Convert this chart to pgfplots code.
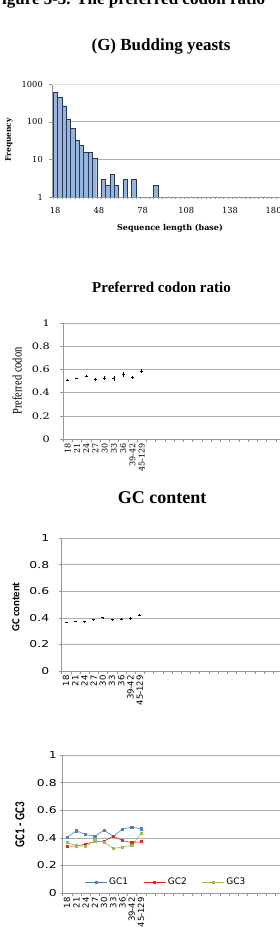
\documentclass[border=0pt]{standalone}
\usepackage{fontspec}
\setmainfont{Liberation Serif}
\newfontfamily\dvserif{DejaVu Serif}
\newfontfamily\dvsans{DejaVu Sans}
\newfontfamily\carl{Carlito}
\usepackage{pgfplots}
\pgfplotsset{compat=1.18}
\definecolor{axisgray}{RGB}{150,150,150}
\definecolor{gridgray}{RGB}{175,175,175}
\definecolor{lightgridgray}{RGB}{225,225,225}
\definecolor{barblue}{RGB}{150,180,220}
\definecolor{bardark}{RGB}{40,55,85}
\definecolor{gcone}{RGB}{79,129,189}
\definecolor{gctwo}{RGB}{228,40,30}
\definecolor{gcthree}{RGB}{155,187,89}
\pgfplotsset{
  excelpanel/.style={
    scale only axis,
    axis x line*=bottom, axis y line*=left,
    axis line style={-, draw=axisgray},
    tick style={draw=axisgray},
    tick align=outside,
    major tick length=3pt, minor tick length=3pt,
    ymajorgrids, yminorticks=false,
    grid style={gridgray, line width=0.5pt},
  },
  catpanel/.style={
    excelpanel,
    xmin=-0.5, xmax=24.5, ymin=0, ymax=1,
    xtick={0,1,2,3,4,5,6,7,8},
    xticklabels={18,21,24,27,30,33,36,39-42,45-129},
    major x tick style={draw=none},
    minor xtick={-0.5,0.5,...,24.5},
    ytick={0,0.2,0.4,0.6,0.8,1},
    yticklabels={0,0.2,0.4,0.6,0.8,1},
  },
}
\begin{document}
\begin{tikzpicture}[x=1pt,y=1pt]
\useasboundingbox (0,0) rectangle (280,928);
\node[anchor=base west, inner sep=0pt, font=\bfseries\fontsize{17}{20}\selectfont] at (-8.5,923.6) {Figure 5-3. The preferred codon ratio};

% ---------------- Histogram ----------------
\begin{axis}[excelpanel,
  at={(52pt,731pt)}, anchor=south west,
  width=239.1pt, height=113pt,
  xmin=15.8, xmax=180,
  ymode=log, ymin=1, ymax=1000,
  xtick={18,48,78,108,138,168},
  xticklabels={18,48,78,108,138,180},
  major x tick style={draw=none},
  minor xtick={16.5,19.5,...,181.5}, minor tick length=2pt,
  ytick={1,10,100}, yticklabels={1,10,100},
  extra y ticks={1000}, extra y tick labels={1000},
  extra y tick style={grid style={lightgridgray}},
  tick label style={font=\dvserif\fontsize{8.3}{9}\selectfont},
  yticklabel style={inner sep=0pt, xshift=-6pt},
  xticklabel style={yshift=-4pt},
  title={(G) Budding yeasts},
  title style={at={(axis description cs:0.456,1.243)}, anchor=base, inner sep=0pt,
    font=\bfseries\fontsize{17}{20}\selectfont},
  xlabel={Sequence length (base)},
  xlabel style={at={(axis description cs:0.4935,-0.28)}, anchor=center,
    font=\dvserif\bfseries\fontsize{8}{9}\selectfont},
  ylabel={Frequency},
  ylabel style={at={(axis description cs:-0.18,0.504)}, anchor=center,
    font=\dvserif\bfseries\fontsize{7.5}{9}\selectfont},
]
\addplot[ybar, bar width=4.37pt, fill=barblue, draw=bardark, line width=0.4pt]
  coordinates {(18,612) (21,450) (24,265) (27,116) (30,67) (33,33) (36,23) (39,15)
               (42,15) (45,11) (51,3) (54,2) (57,4) (60,2) (66,3) (72,3) (87,2)};
\end{axis}

% ---------------- Preferred codon ratio ----------------
\begin{axis}[catpanel,
  at={(63pt,489pt)}, anchor=south west,
  width=231.25pt, height=116pt,
  yticklabel style={font=\dvserif\fontsize{9}{10}\selectfont, xscale=1.25, inner sep=0pt, xshift=-8pt},
  xticklabel style={rotate=90, anchor=east, inner sep=1pt, font=\dvserif\fontsize{8}{9}\selectfont},
  title={Preferred codon ratio},
  title style={at={(axis description cs:0.426,1.213)}, anchor=base, inner sep=0pt,
    font=\bfseries\fontsize{15}{18}\selectfont},
  ylabel={Preferred codon},
  ylabel style={at={(axis description cs:-0.199,0.5)}, anchor=center,
    font=\fontsize{10.5}{12}\selectfont, yscale=1.25},
]
\addplot[black, only marks, mark=-, mark size=1.6pt, line width=0.7pt,
  error bars/.cd, y dir=both, y explicit, error mark=none,
  error bar style={black, line width=0.6pt}]
  coordinates {
  (0,0.507) +- (0,0.006)
  (1,0.522) +- (0,0.007)
  (2,0.540) +- (0,0.008)
  (3,0.514) +- (0,0.012)
  (4,0.527) +- (0,0.016)
  (5,0.521) +- (0,0.018)
  (6,0.556) +- (0,0.025)
  (7,0.532) +- (0,0.014)
  (8,0.585) +- (0,0.018)
  };
\end{axis}

% ---------------- GC content ----------------
\begin{axis}[catpanel,
  at={(61.5pt,257pt)}, anchor=south west,
  width=230pt, height=133pt,
  yticklabel style={font=\dvsans\fontsize{9.5}{10}\selectfont, xscale=1.3, inner sep=0pt, xshift=-7pt},
  xticklabel style={rotate=90, anchor=east, inner sep=1pt, font=\dvsans\fontsize{8.5}{9}\selectfont},
  title={GC content},
  title style={at={(axis description cs:0.437,1.216)}, anchor=base, inner sep=0pt,
    font=\bfseries\fontsize{18}{21}\selectfont},
  ylabel={GC content},
  ylabel style={at={(axis description cs:-0.198,0.481)}, anchor=center,
    font=\carl\bfseries\fontsize{10.8}{12}\selectfont},
]
\addplot[black, only marks, mark=-, mark size=1.5pt, line width=0.7pt,
  error bars/.cd, y dir=both, y explicit, error mark=none,
  error bar style={black, line width=0.6pt}]
  coordinates {
  (0,0.367) +- (0,0.004)
  (1,0.375) +- (0,0.004)
  (2,0.370) +- (0,0.005)
  (3,0.387) +- (0,0.006)
  (4,0.400) +- (0,0.008)
  (5,0.385) +- (0,0.008)
  (6,0.392) +- (0,0.010)
  (7,0.395) +- (0,0.010)
  (8,0.420) +- (0,0.008)
  };
\end{axis}

% ---------------- GC1 - GC3 ----------------
\begin{axis}[catpanel,
  at={(62.5pt,35pt)}, anchor=south west,
  width=231.25pt, height=138pt,
  yticklabel style={font=\dvsans\fontsize{9.5}{10}\selectfont, xscale=1.3, inner sep=0pt, xshift=-2pt},
  xticklabel style={rotate=90, anchor=east, inner sep=1pt, font=\dvsans\fontsize{8.5}{9}\selectfont},
  ylabel={GC1 - GC3},
  ylabel style={at={(axis description cs:-0.184,0.493)}, anchor=center,
    font=\carl\bfseries\fontsize{11}{12}\selectfont, yscale=1.25},
  legend style={draw=none, fill=none, at={(axis description cs:0.4476,0.08)}, anchor=center,
    legend columns=3, font=\dvsans\fontsize{9}{10}\selectfont,
    /tikz/every even column/.append style={column sep=13pt}},
  legend image code/.code={\draw[mark repeat=2,mark phase=2,#1] plot coordinates {(0pt,0pt) (11pt,0pt) (22pt,0pt)};},
]
\addplot[gcone, line width=0.6pt, mark=square*, mark size=1.1pt]
  coordinates {(0,0.405) (1,0.450) (2,0.424) (3,0.412) (4,0.455) (5,0.410) (6,0.464) (7,0.477) (8,0.465)};
\addplot[gctwo, line width=0.6pt, mark=square*, mark size=1.1pt]
  coordinates {(0,0.340) (1,0.340) (2,0.355) (3,0.372) (4,0.376) (5,0.412) (6,0.380) (7,0.365) (8,0.372)};
\addplot[gcthree, line width=0.6pt, mark=square*, mark size=1.1pt]
  coordinates {(0,0.365) (1,0.342) (2,0.340) (3,0.378) (4,0.368) (5,0.322) (6,0.334) (7,0.346) (8,0.430)};
\legend{GC1,GC2,GC3}
\end{axis}
\end{tikzpicture}
\end{document}
